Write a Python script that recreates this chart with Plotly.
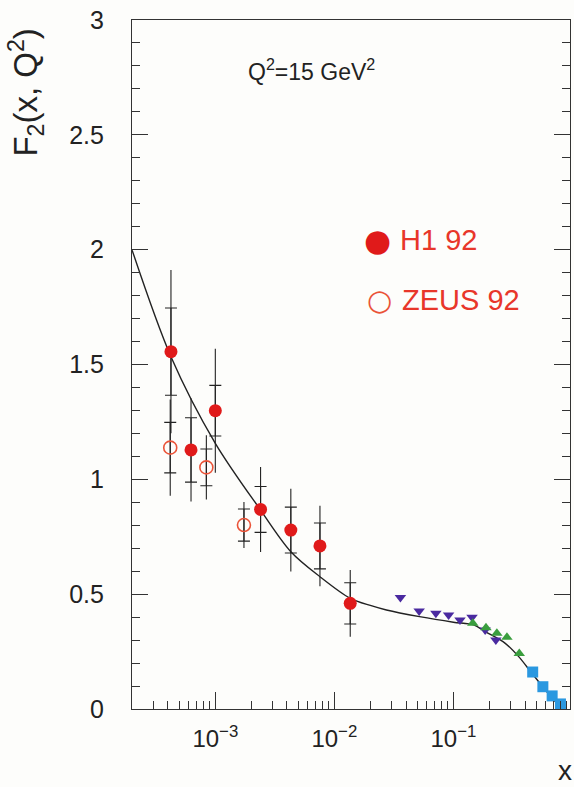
import plotly.graph_objects as go

# ---------------- data ----------------
# H1 92 (filled red circles)
h1_x = [4.24e-4, 6.25e-4, 1.0e-3, 2.40e-3, 4.31e-3, 7.57e-3, 1.36e-2]
h1_y = [1.556, 1.128, 1.299, 0.869, 0.779, 0.710, 0.460]
h1_stat = [0.19, 0.14, 0.11, 0.10, 0.10, 0.10, 0.09]
h1_tot = [0.355, 0.225, 0.27, 0.185, 0.18, 0.175, 0.145]

# ZEUS 92 (open circles)
zeus_x = [4.18e-4, 8.41e-4, 1.74e-3]
zeus_y = [1.138, 1.052, 0.801]
zeus_stat = [0.11, 0.08, 0.07]
zeus_tot = [0.21, 0.14, 0.10]

# fixed-target data
purple_x = [0.0359, 0.0516, 0.0713, 0.0912, 0.1137, 0.1435, 0.185, 0.2275]
purple_y = [0.485, 0.427, 0.417, 0.409, 0.387, 0.399, 0.344, 0.300]
green_x = [0.1456, 0.188, 0.232, 0.282, 0.358]
green_y = [0.373, 0.354, 0.330, 0.312, 0.242]
blue_x = [0.464, 0.565, 0.676, 0.794]
blue_y = [0.161, 0.097, 0.057, 0.022]

# theory curve
curve_x = [2.0e-4, 4.24e-4, 1.0e-3, 2.4e-3, 4.31e-3, 7.57e-3,
           1.36e-2, 2.04e-2, 2.74e-2, 5.2e-2, 0.100, 0.148, 0.185, 0.273, 0.354,
           0.458, 0.594, 0.771, 0.877]
curve_y = [1.998, 1.534, 1.157, 0.866, 0.685, 0.576,
           0.482, 0.450, 0.431, 0.402, 0.378, 0.366, 0.337, 0.286, 0.228,
           0.155, 0.083, 0.017, 0.005]

x_tickvals = [1e-3, 1e-2, 1e-1, 1]
x_ticktext = ["10<sup>\u22123</sup>", "10<sup>\u22122</sup>", "10<sup>\u22121</sup>", "1"]

red = "#e01a1a"
zeus_col = "#ea5338"
leg_col = "#e8362a"
font_fam = "Liberation Sans, Arial, sans-serif"

fig = go.Figure()

# curve
fig.add_trace(go.Scatter(x=curve_x, y=curve_y, mode="lines",
                         line=dict(color="#222222", width=1.4, shape="spline", smoothing=0.9),
                         showlegend=False, hoverinfo="skip"))

# error bars (total: no cap, stat: cap)
for xs, ys, tot, st in [(h1_x, h1_y, h1_tot, h1_stat), (zeus_x, zeus_y, zeus_tot, zeus_stat)]:
    fig.add_trace(go.Scatter(x=xs, y=ys, mode="markers", marker=dict(size=1, opacity=0),
                             error_y=dict(type="data", array=tot, visible=True,
                                          color="#222222", thickness=1.1, width=0),
                             showlegend=False, hoverinfo="skip"))
    fig.add_trace(go.Scatter(x=xs, y=ys, mode="markers", marker=dict(size=1, opacity=0),
                             error_y=dict(type="data", array=st, visible=True,
                                          color="#222222", thickness=1.1, width=6),
                             showlegend=False, hoverinfo="skip"))

fig.add_trace(go.Scatter(x=h1_x, y=h1_y, mode="markers", name="H1 92",
                         marker=dict(symbol="circle", size=13, color=red, line=dict(width=0)),
                         showlegend=False))
fig.add_trace(go.Scatter(x=zeus_x, y=zeus_y, mode="markers", name="ZEUS 92",
                         marker=dict(symbol="circle-open", size=13, color=zeus_col, line=dict(width=1.6)),
                         showlegend=False))

fig.add_trace(go.Scatter(x=purple_x, y=purple_y, mode="markers",
                         marker=dict(symbol="triangle-down", size=10, color="#4a2aa0"),
                         showlegend=False))
fig.add_trace(go.Scatter(x=green_x, y=green_y, mode="markers",
                         marker=dict(symbol="triangle-up", size=10, color="#3a9e3e"),
                         showlegend=False))
fig.add_trace(go.Scatter(x=blue_x, y=blue_y, mode="markers",
                         marker=dict(symbol="square", size=11, color="#2a98e0"),
                         showlegend=False))

axis_col = "#333333"
fig.update_layout(
    width=574, height=787,
    margin=dict(l=132, r=4, t=20, b=78),
    paper_bgcolor="#fdfdfb", plot_bgcolor="#fdfdfb",
    font=dict(family=font_fam, color="#222222"),
    showlegend=False,
    xaxis=dict(type="log", range=[-3.70, -0.02], showgrid=False, zeroline=False,
               showline=True, linecolor=axis_col, linewidth=1.2, mirror=True,
               ticks="inside", ticklen=17, tickwidth=1, tickcolor=axis_col,
               tickmode="array", tickvals=x_tickvals, ticktext=x_ticktext,
               tickfont=dict(size=24, color="#222222"),
               ticklabelstandoff=8,
               minor=dict(ticks="inside", ticklen=8, tickwidth=1, tickcolor=axis_col,
                          dtick="D1", showgrid=False)),
    yaxis=dict(range=[0, 3], showgrid=False, zeroline=False,
               showline=True, linecolor=axis_col, linewidth=1.2, mirror="ticks",
               ticks="inside", ticklen=16, tickwidth=1, tickcolor=axis_col,
               dtick=0.5, tick0=0,
               tickfont=dict(size=25, color="#222222"),
               ticklabelstandoff=22,
               minor=dict(ticks="inside", ticklen=8, tickwidth=1, tickcolor=axis_col,
                          dtick=0.1, showgrid=False)),
)

annotations = [
    dict(text="Q<sup>2</sup>=15 GeV<sup>2</sup>", xref="paper", yref="paper",
         x=0.409, y=0.927, xanchor="center", yanchor="middle", showarrow=False,
         font=dict(size=23, color="#222222", family=font_fam)),
    dict(text="F<sub>2</sub>(x, Q<sup>2</sup>)", xref="paper", yref="paper",
         x=-0.243, y=0.894, xanchor="center", yanchor="middle", showarrow=False,
         textangle=-90, font=dict(size=33, color="#222222", family=font_fam)),
    dict(text="x", xref="paper", yref="paper", x=1, y=0, xanchor="center", yanchor="middle",
         xshift=-5, yshift=-61, showarrow=False, font=dict(size=28, color="#222222", family=font_fam)),
    dict(text="\u25cf", xref="paper", yref="paper", x=0.5616, y=0.681, xanchor="center",
         yanchor="middle", showarrow=False, font=dict(size=31, color=red, family="DejaVu Sans")),
    dict(text="H1 92", xref="paper", yref="paper", x=0.607, y=0.681, xanchor="left",
         yanchor="middle", showarrow=False, font=dict(size=29, color=leg_col, family=font_fam)),
    dict(text="\u25cb", xref="paper", yref="paper", x=0.564, y=0.594, xanchor="center",
         yanchor="middle", showarrow=False, font=dict(size=29, color=zeus_col, family="DejaVu Sans")),
    dict(text="ZEUS 92", xref="paper", yref="paper", x=0.612, y=0.594, xanchor="left",
         yanchor="middle", showarrow=False, font=dict(size=29, color=leg_col, family=font_fam)),
]
fig.update_layout(annotations=annotations)

fig.write_html("out.html")
